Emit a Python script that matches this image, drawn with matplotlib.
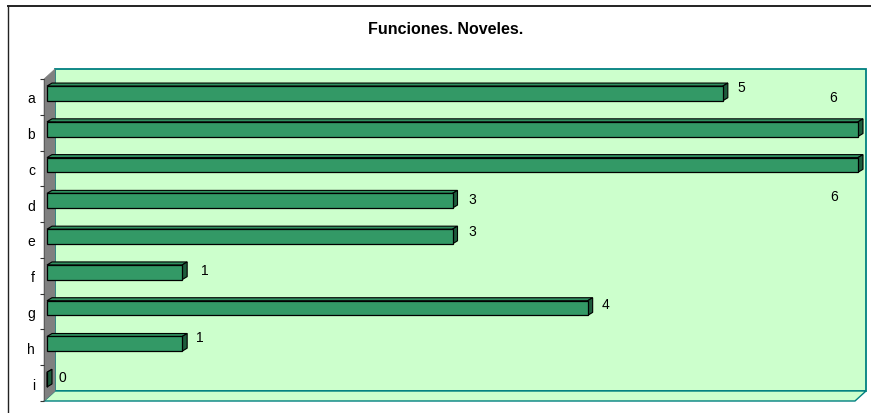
import matplotlib
matplotlib.use('Agg')
import matplotlib.pyplot as plt
from matplotlib.patches import Polygon, Rectangle
from matplotlib.lines import Line2D
import matplotlib.transforms as mtransforms
import numpy as np

plt.rcParams['font.family'] = ['Liberation Sans', 'DejaVu Sans']

# datos
categorias = ['a', 'b', 'c', 'd', 'e', 'f', 'g', 'h', 'i']
valores = [5, 6, 6, 3, 3, 1, 4, 1, 0]
titulo = 'Funciones. Noveles.'
valor_max = 6

# desplazamiento de cada etiqueta respecto al extremo de su barra (px)
desp_etiquetas = [(18, 6), (-25, 32), (-24, -31), (20, 2), (20, 5),
                  (23, 2), (18, 4), (18, 7), (15, 3)]

W, H = 871, 414
fig = plt.figure(figsize=(W / 100, H / 100), dpi=100)
fig.patch.set_facecolor('white')

# marco exterior del gráfico
fig.add_artist(Line2D([8 / W, 1], [1 - 7 / H, 1 - 7 / H], color='#222222', lw=1.4))
fig.add_artist(Line2D([8 / W, 8 / W], [0, 1 - 7 / H], color='#222222', lw=1.0))

fig.text(446 / W, 1 - 30 / H, titulo, ha='center', va='center',
         fontsize=11.5, fontweight='bold')

# plano frontal
ax = fig.add_axes([44 / W, (H - 402) / H, 811 / W, 322 / H])
n = len(categorias)
pos = np.arange(n)
ax.set_xlim(0, valor_max)
ax.set_ylim(n - 0.5, -0.5)
ax.set_facecolor('none')
for s in ax.spines.values():
    s.set_visible(False)
ax.set_xticks([])

ax.set_yticks(pos, categorias, fontsize=10)
ax.set_yticks(np.arange(n + 1) - 0.5, minor=True)
ax.tick_params(axis='y', which='major', length=0, pad=6.5)
ax.tick_params(axis='y', which='minor', length=3, width=0.8, color='#333333')

ident = mtransforms.IdentityTransform()
prof_x, prof_y = 11, 10   # profundidad de las paredes


def px(tr, x, y, dx=0, dy=0):
    p = tr.transform((x, y))
    return (p[0] + dx, p[1] + dy)


def cara(puntos, color, edge, lw, z):
    ax.add_patch(Polygon(puntos, closed=True, facecolor=color, edgecolor=edge,
                         lw=lw, transform=ident, clip_on=False, zorder=z))


td = ax.transData
y0, y1 = -0.5, n - 0.5

# pared del fondo
fondo_tr = mtransforms.offset_copy(td, fig=fig, x=prof_x, y=prof_y, units='dots')
ax.add_patch(Rectangle((0, y0), valor_max, y1 - y0, facecolor='#CCFFCC',
                       edgecolor='#008080', lw=1.3, transform=fondo_tr,
                       clip_on=False, zorder=0))

# suelo
cara([px(td, 0, y1), px(td, valor_max, y1),
      px(td, valor_max, y1, prof_x, prof_y), px(td, 0, y1, prof_x, prof_y)],
     '#CCFFCC', '#008080', 1.0, 0.5)

# pared lateral
cara([px(td, 0, y0), px(td, 0, y0, prof_x, prof_y),
      px(td, 0, y1, prof_x, prof_y), px(td, 0, y1)],
     '#808080', '#808080', 0.5, 0.6)
ax.add_artist(Line2D([0, 0], [y0, y1], color='#555555', lw=0.6, zorder=0.7))

# barras
alto = 0.41
barra_tr = mtransforms.offset_copy(td, fig=fig, x=3, y=3.5, units='dots')
ax.barh(pos, valores, height=alto, color='#339966', edgecolor='black',
        lw=0.9, transform=barra_tr, zorder=3, clip_on=False)

bx, by = 5, 3
for y, v in zip(pos, valores):
    tl = px(barra_tr, 0, y - alto / 2)
    tr_ = px(barra_tr, v, y - alto / 2)
    br = px(barra_tr, v, y + alto / 2)
    cara([tl, tr_, (tr_[0] + bx, tr_[1] + by), (tl[0] + bx, tl[1] + by)],
         '#2F8F5F', 'black', 0.8, 2.5)
    cara([tr_, br, (br[0] + bx, br[1] + by), (tr_[0] + bx, tr_[1] + by)],
         '#1D5C3C', 'black', 0.8, 2.5)

for y, v, (dx, dy) in zip(pos, valores, desp_etiquetas):
    ax.annotate(str(v), xy=(v, y), xycoords=barra_tr, xytext=(dx, dy),
                textcoords='offset pixels', ha='center', va='center',
                fontsize=10, zorder=4)

fig.savefig('out.png', dpi=100)
